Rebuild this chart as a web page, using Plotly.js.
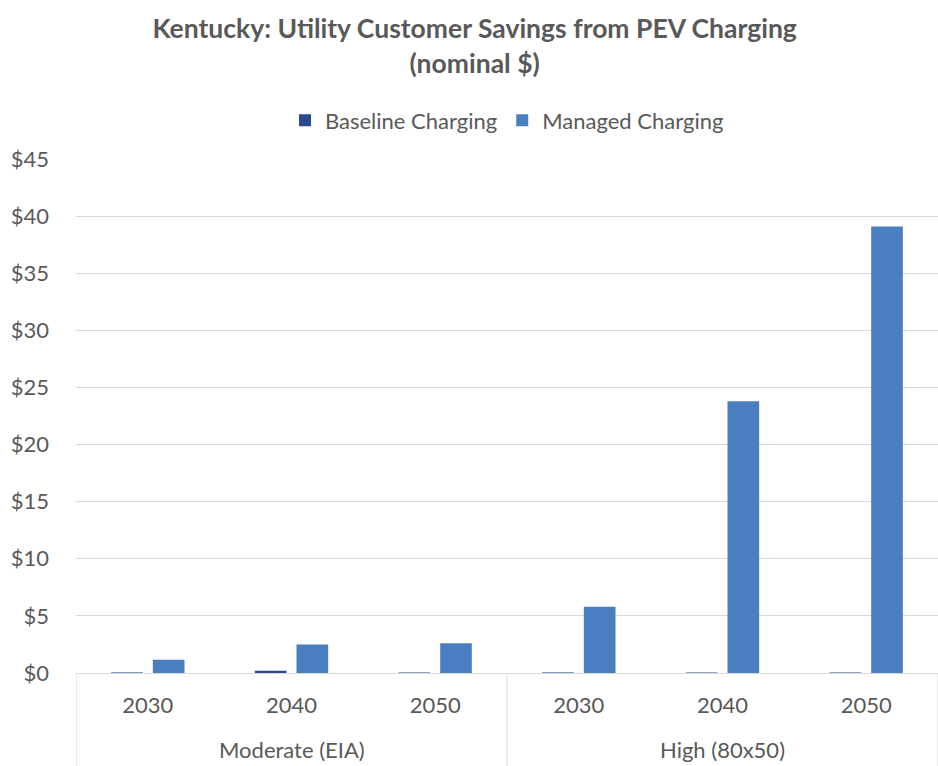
<!DOCTYPE html>
<html>
<head>
<meta charset="utf-8">
<script src="https://cdn.plot.ly/plotly-3.0.1.min.js"></script>
<style>html,body{margin:0;padding:0;background:#fff;}#chart{width:938px;height:766px;}</style>
</head>
<body>
<div id="chart"></div>
<script>
const scenarios = ["Moderate (EIA)", "Moderate (EIA)", "Moderate (EIA)", "High (80x50)", "High (80x50)", "High (80x50)"];
const years = ["2030", "2040", "2050", "2030", "2040", "2050"];
const baselineCharging = [0.05, 0.2, 0.05, 0.05, 0.05, 0.05];
const managedCharging = [1.15, 2.5, 2.6, 5.8, 23.8, 39.1];

const font = "Lato, 'Open Sans', sans-serif";
const idx = years.map((_, i) => i);

// groups derived from scenarios
const groups = [];
scenarios.forEach((s, i) => {
  const g = groups.find(g => g.name === s);
  if (g) g.last = i; else groups.push({name: s, first: i, last: i});
});
const annotations = groups.map(g => ({
  text: g.name, x: (g.first + g.last) / 2, xref: "x", y: -0.149, yref: "paper",
  yanchor: "middle", showarrow: false, font: {family: font, size: 22, color: "#595959"}
}));
const bounds = [];
groups.forEach(g => { bounds.push(g.first - 0.5); bounds.push(g.last + 0.5); });
const shapes = [...new Set(bounds)].map(b => ({
  type: "line", xref: "x", yref: "paper", x0: b, x1: b, y0: 0, y1: -0.2,
  line: {color: "#d9d9d9", width: 1}
}));

const traces = [
  {type: "bar", name: "Baseline Charging", x: idx, y: baselineCharging, marker: {color: "#2B4A8E"}},
  {type: "bar", name: "Managed Charging", x: idx, y: managedCharging, marker: {color: "#4A7EC1"}}
];
const layout = {
  width: 938, height: 766,
  margin: {l: 76, r: 0, t: 159, b: 93},
  paper_bgcolor: "#fff", plot_bgcolor: "#fff",
  font: {family: font, color: "#595959", size: 21},
  title: {text: "<b>Kentucky: Utility Customer Savings from PEV Charging<br>(nominal $)</b>", x: 0.506, xanchor: "center", y: 0.95, yanchor: "top", font: {family: font, size: 26.5, color: "#595959"}},
  showlegend: true,
  legend: {orientation: "h", x: 0.5, xanchor: "center", y: 1.075, yanchor: "middle", font: {size: 22, color: "#595959"}, traceorder: "normal"},
  barmode: "group", bargap: 0.42, bargroupgap: 0.24,
  annotations: annotations,
  shapes: shapes,
  xaxis: {type: "linear", range: [-0.5, years.length - 0.5], tickvals: idx, ticktext: years, showgrid: false, zeroline: false, showline: true, linecolor: "#d9d9d9", ticks: "", ticklabelstandoff: 13, tickfont: {size: 22, color: "#595959"}},
  yaxis: {range: [0, 45], dtick: 5, tickprefix: "$", showgrid: true, gridcolor: "#d9d9d9", zeroline: true, zerolinecolor: "#d9d9d9", showline: false, ticks: "", ticklabelstandoff: 26, tickfont: {size: 22, color: "#595959"}}
};
Plotly.newPlot("chart", traces, layout, {displayModeBar: false, staticPlot: true});
</script>
</body>
</html>
